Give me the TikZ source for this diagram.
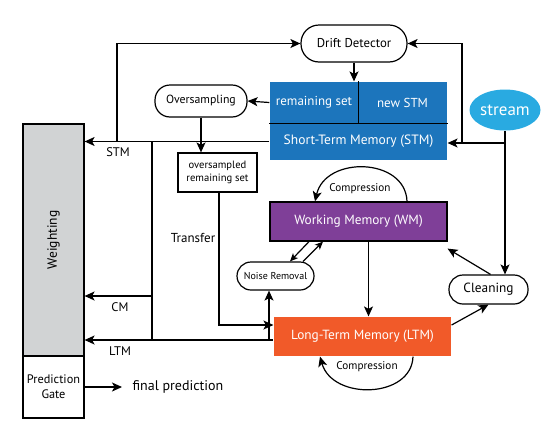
\documentclass[tikz,border=0pt]{standalone}
\usepackage{fontspec}
\setmainfont{PT Sans}
\usetikzlibrary{arrows.meta,shapes.geometric,calc}
\definecolor{stmblue}{HTML}{1C75BC}
\definecolor{wmpurple}{HTML}{7F3F98}
\definecolor{ltmorange}{HTML}{F15A29}
\definecolor{streamblue}{HTML}{29AAE1}
\definecolor{wgray}{HTML}{D1D3D4}
\begin{document}
\begin{tikzpicture}[x=1pt,y=-1pt,
  line width=1.2pt,
  arr/.style={-{Stealth[length=10pt,width=9pt,inset=2.5pt]}},
  sarr/.style={-{Stealth[length=8pt,width=7pt,inset=2pt]}},
  pill/.style={draw,rounded corners=14pt,fill=white,inner sep=0pt,font=\fontsize{12.8}{14}\selectfont},
  bluecell/.style={fill=stmblue,text=white,inner sep=0pt,font=\fontsize{13}{15}\selectfont},
  membox/.style={inner sep=0pt,text=white,font=\fontsize{13.3}{15}\selectfont},
  lbl/.style={inner sep=0pt,font=\fontsize{12.5}{14}\selectfont},
  slbl/.style={inner sep=0pt,font=\fontsize{11.2}{13}\selectfont},
  plain/.style={draw,fill=white,inner sep=0pt,align=center,font=\fontsize{12}{14}\selectfont}
]
\useasboundingbox (0,0) rectangle (559,426);

% nodes
\node[pill,minimum width=106pt,minimum height=37pt,rounded corners=18pt] (dd) at (354,43.5) {Drift Detector};
\node[bluecell,minimum width=88pt,minimum height=41pt] (rs) at (314,102.5) {remaining set};
\node[bluecell,minimum width=89pt,minimum height=41pt] (ns) at (402.5,102.5) {new STM};
\node[bluecell,minimum width=177pt,minimum height=37pt,font=\fontsize{13.5}{15}\selectfont] (stm) at (358.5,141.5) {Short-Term Memory (STM)};
\draw (rs.north east) -- (rs.south east);
\draw (rs.south west) -- (ns.south east);
\node[pill,minimum width=92pt,minimum height=32pt,rounded corners=15pt,font=\fontsize{11.8}{13}\selectfont] (ov) at (201,101) {Oversampling};
\node[plain,minimum width=79pt,minimum height=39pt,font=\fontsize{10.6}{13.5}\selectfont] (osr) at (217.5,172.5) {oversampled\\remaining set};
\node[ellipse,fill=streamblue,text=white,minimum width=71pt,minimum height=41pt,inner sep=0pt,font=\fontsize{17}{19}\selectfont] (st) at (505,110) {stream};
\node[membox,draw=black,fill=wmpurple,minimum width=177pt,minimum height=39pt] (wm) at (358.5,221.5) {Working Memory (WM)};
\node[membox,fill=ltmorange,minimum width=177pt,minimum height=39pt] (ltm) at (362.5,336.5) {Long-Term Memory (LTM)};
\node[pill,minimum width=77pt,minimum height=28pt,font=\fontsize{10}{12}\selectfont] (nr) at (275.5,276) {Noise Removal};
\node[pill,minimum width=79pt,minimum height=29pt,font=\fontsize{13.3}{15}\selectfont] (cl) at (488.5,289.5) {Cleaning};
\node[draw,fill=wgray,minimum width=61pt,minimum height=232pt,inner sep=0pt] (wt) at (53.5,240) {};
\node[rotate=90,lbl,font=\fontsize{13.5}{15}\selectfont] at (wt.center) {Weighting};
\node[plain,minimum width=61pt,minimum height=62pt,font=\fontsize{12.3}{15}\selectfont] (pg) at (53.5,387) {Prediction\\Gate};

% coordinates
\coordinate (j117) at (117,141.5);
\coordinate (j152) at (152,141.5);
\coordinate (jltm) at (273,340);
\coordinate (jcm) at (152,296);
\coordinate (sj) at (505,143);
\coordinate (sj2) at (462,143);
\coordinate (fp) at (122,387);

% connectors
\draw[arr] (dd.south) -- (dd.south |- rs.north);
\draw[arr] (rs.west) -- (ov.east);
\draw[arr] (ov.south) -- (ov.south |- osr.north);
\draw[arr] (stm.west) -- (stm.west -| wt.east);
\draw[arr] (j117) |- (dd.west);
\draw (j152) -- (jltm -| j152);
\draw[arr] (jcm) -- (jcm -| wt.east);
\draw[arr] (jltm) -- (jltm -| wt.east);
\draw[arr] ([xshift=1.5pt]osr.south) |- ([yshift=11.5pt]ltm.west);
\draw[arr] ([xshift=-4pt]jltm) -- ([xshift=-4pt]jltm |- nr.south);
\draw (st.south) -- (sj);
\draw[arr] (sj) -- (sj -| stm.east);
\draw[arr] (sj2) |- (dd.east);
\draw[arr] (sj) -- (sj |- cl.north);
\draw[arr] ([xshift=10pt]wm.south) -- ([xshift=10pt]wm.south |- ltm.north);
\draw[arr] ([xshift=2pt]cl.north) -- ([yshift=-7pt]wm.south east);
\draw[arr] ([yshift=11.5pt]ltm.east) -- (cl.south);
\draw[sarr] ([xshift=-49.5pt]wm.south) -- ([xshift=14.5pt]nr.north);
\draw[sarr] ([xshift=27.5pt]nr.north) -- ([xshift=-35.5pt]wm.south);
\draw[arr] ([xshift=48.5pt]wm.north) .. controls ($(wm.north)+(47,-44)$) and ($(wm.north)+(-33,-46)$) .. ([xshift=-43.5pt]wm.north);
\draw[arr] ([xshift=50.5pt]ltm.south) .. controls ($(ltm.south)+(49,42)$) and ($(ltm.south)+(-30,44)$) .. ([xshift=-42.5pt]ltm.south);
\draw[arr] (pg.east) -- (fp);

% labels
\node[slbl,fill=white,inner xsep=1pt] at (360,189) {Compression};
\node[slbl,fill=white,inner xsep=1pt] at (367,367) {Compression};
\node[lbl] at (118,152) {STM};
\node[lbl] at (120,307) {CM};
\node[lbl] at (120,351) {LTM};
\node[lbl,font=\fontsize{13}{15}\selectfont] at (193,238) {Transfer};
\node[lbl,anchor=west,font=\fontsize{14}{16}\selectfont] at (132,387) {final prediction};
\end{tikzpicture}
\end{document}
